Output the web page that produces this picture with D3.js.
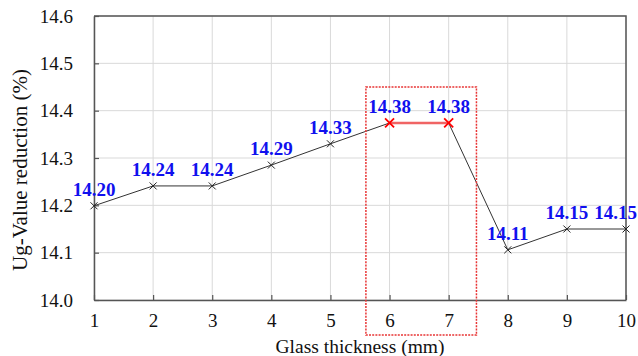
<!DOCTYPE html>
<html><head><meta charset="utf-8">
<script src="https://cdn.jsdelivr.net/npm/d3@7"></script>
<style>body{margin:0;background:#fff}svg{display:block}
svg text{font-family:"Liberation Serif","Times New Roman","DejaVu Serif",serif !important;}</style>
</head><body><svg id="c" width="638" height="356"></svg>
<script>
const thickness = [1,2,3,4,5,6,7,8,9,10];
const reduction = [14.199,14.241,14.241,14.285,14.330,14.374,14.374,14.106,14.150,14.150];
const labels = ["14.20","14.24","14.24","14.29","14.33","14.38","14.38","14.11","14.15","14.15"];
const yTicks = [14.0,14.1,14.2,14.3,14.4,14.5,14.6];
const highlight = [6,7];
const boxRange = {x0:5.6, x1:7.47, yTop:14.45};

const svg = d3.select("#c");
const m = {l:94, r:12, t:16, b:56};
const W = 638, H = 356;
const iw = W-m.l-m.r, ih = H-m.t-m.b;
const x = d3.scaleLinear().domain([1,10]).range([m.l, m.l+iw]);
const y = d3.scaleLinear().domain([14.0,14.6]).range([m.t+ih, m.t]);

// grid
svg.append("g").selectAll("line").data(thickness).join("line")
  .attr("x1",d=>x(d)).attr("x2",d=>x(d)).attr("y1",m.t).attr("y2",m.t+ih)
  .attr("stroke","#d9d9d9").attr("stroke-width",1);
svg.append("g").selectAll("line").data(yTicks).join("line")
  .attr("x1",m.l).attr("x2",m.l+iw).attr("y1",d=>y(d)).attr("y2",d=>y(d))
  .attr("stroke","#d9d9d9").attr("stroke-width",1);

// axes
const xa = svg.append("g").attr("transform",`translate(0,${m.t+ih})`)
  .call(d3.axisBottom(x).tickValues(thickness).tickFormat(d3.format("d")).tickSizeInner(-5).tickSizeOuter(0).tickPadding(14));
const ya = svg.append("g").attr("transform",`translate(${m.l},0)`)
  .call(d3.axisLeft(y).tickValues(yTicks).tickFormat(d3.format(".1f")).tickSizeInner(-5).tickSizeOuter(0).tickPadding(21));
[xa,ya].forEach(a=>{
  a.select(".domain").attr("stroke","#555").attr("stroke-width",1.5);
  a.selectAll(".tick line").attr("stroke","#555").attr("stroke-width",1.2);
  a.selectAll("text").attr("font-size",19).attr("fill","#111");
});
// frame top/right
svg.append("path").attr("d",`M${m.l},${m.t}H${m.l+iw}V${m.t+ih}`)
  .attr("fill","none").attr("stroke","#555").attr("stroke-width",1.5);

// line
const line = d3.line().x((d,i)=>x(thickness[i])).y(d=>y(d));
svg.append("path").datum(reduction).attr("d",line)
  .attr("fill","none").attr("stroke","#333").attr("stroke-width",1);
// highlight segment
const hi = highlight.map(t=>thickness.indexOf(t));
svg.append("line").attr("x1",x(thickness[hi[0]])).attr("y1",y(reduction[hi[0]]))
  .attr("x2",x(thickness[hi[1]])).attr("y2",y(reduction[hi[1]]))
  .attr("stroke","#f06464").attr("stroke-width",2.5);

// markers
const s = 3.5;
svg.append("g").selectAll("path").data(reduction).join("path")
  .attr("d",(d,i)=>{const cx=x(thickness[i]), cy=y(d); const k=highlight.includes(thickness[i])?4.5:s;
    return `M${cx-k},${cy-k}L${cx+k},${cy+k}M${cx-k},${cy+k}L${cx+k},${cy-k}`;})
  .attr("stroke",(d,i)=>highlight.includes(thickness[i])?"#ff0000":"#222")
  .attr("stroke-width",(d,i)=>highlight.includes(thickness[i])?1.8:1);

// data labels (kept inside the picture at the right edge)
svg.append("g").selectAll("text").data(reduction).join("text")
  .attr("x",(d,i)=>x(thickness[i])).attr("y",d=>y(d)-10)
  .attr("text-anchor","middle").attr("font-weight","bold")
  .attr("font-size",19).attr("fill","#1010ee").text((d,i)=>labels[i])
  .each(function(){
    const b=this.getBBox();
    if(b.x+b.width>W-1){ d3.select(this).attr("x",+d3.select(this).attr("x")-(b.x+b.width-(W-1))); }
  });

// highlight box
svg.append("rect").attr("x",x(boxRange.x0)).attr("y",y(boxRange.yTop))
  .attr("width",x(boxRange.x1)-x(boxRange.x0)).attr("height",(m.t+ih+35)-y(boxRange.yTop))
  .attr("fill","none").attr("stroke","#e83535").attr("stroke-width",1.5).attr("stroke-dasharray","2,1.2");

// titles
svg.append("text").attr("x",m.l+iw/2).attr("y",353).attr("text-anchor","middle")
  .attr("font-size",19.5).attr("fill","#111").text("Glass thickness (mm)");
svg.append("text").attr("transform",`translate(27,170) rotate(-90)`).attr("text-anchor","middle")
  .attr("font-size",21).attr("fill","#111").text("Ug-Value reduction (%)");
</script></body></html>
